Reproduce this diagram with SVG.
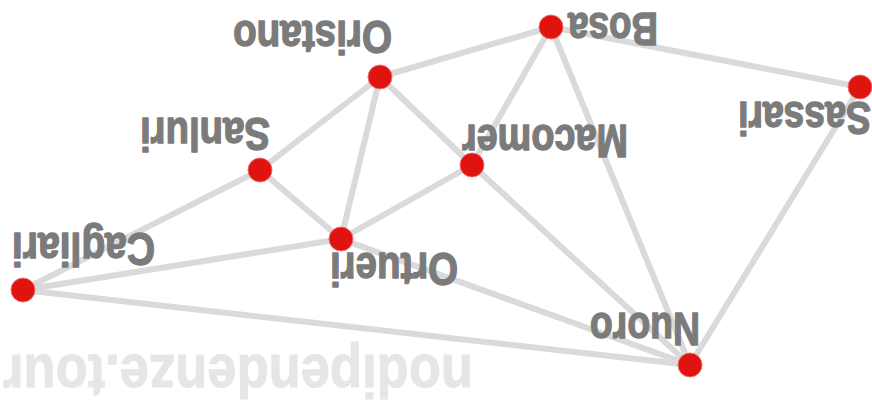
<svg xmlns="http://www.w3.org/2000/svg" width="872" height="404" viewBox="0 0 872 404">
<style>
.bg{fill:#ffffff}
.wm{font-family:"Liberation Sans",Arial,sans-serif;font-weight:700;font-size:62px;fill:#e6e6e6;stroke:#e6e6e6;stroke-width:1}
.edge{stroke:#dadada;stroke-width:6;stroke-linecap:round;fill:none}
.dot{fill:#e0140f;stroke:#f07070;stroke-width:1}
.lbl{font-family:"Liberation Sans",Arial,sans-serif;font-weight:700;font-size:46px;fill:#7b7b7b;stroke:#7b7b7b;stroke-width:1.4;stroke-linejoin:round}
</style>
<rect class="bg" x="0" y="0" width="872" height="404"/>
<text class="wm" x="473" y="355" transform="rotate(180 473 355)" textLength="470" lengthAdjust="spacingAndGlyphs">nodipendenze.tour</text>
<g id="connectors">
<line class="edge" x1="380" y1="77" x2="551" y2="27"/>
<line class="edge" x1="551" y1="27" x2="860" y2="87"/>
<line class="edge" x1="551" y1="27" x2="472" y2="165"/>
<line class="edge" x1="551" y1="27" x2="690" y2="365"/>
<line class="edge" x1="860" y1="87" x2="690" y2="365"/>
<line class="edge" x1="380" y1="77" x2="260" y2="170"/>
<line class="edge" x1="380" y1="77" x2="341" y2="239"/>
<line class="edge" x1="380" y1="77" x2="472" y2="165"/>
<line class="edge" x1="260" y1="170" x2="23" y2="290"/>
<line class="edge" x1="260" y1="170" x2="341" y2="239"/>
<line class="edge" x1="472" y1="165" x2="341" y2="239"/>
<line class="edge" x1="472" y1="165" x2="690" y2="365"/>
<line class="edge" x1="341" y1="239" x2="23" y2="290"/>
<line class="edge" x1="341" y1="239" x2="690" y2="365"/>
<line class="edge" x1="23" y1="290" x2="690" y2="365"/>
</g>
<g id="node-oristano"><circle class="dot" cx="380" cy="77" r="12"/><text class="lbl" x="392" y="21" transform="rotate(180 392 21)" textLength="159" lengthAdjust="spacingAndGlyphs">Oristano</text></g>
<g id="node-bosa"><circle class="dot" cx="551" cy="27" r="12"/><text class="lbl" x="658" y="13" transform="rotate(180 658 13)" textLength="90" lengthAdjust="spacingAndGlyphs">Bosa</text></g>
<g id="node-sassari"><circle class="dot" cx="860" cy="87" r="12"/><text class="lbl" x="871" y="102" transform="rotate(180 871 102)" textLength="133" lengthAdjust="spacingAndGlyphs">Sassari</text></g>
<g id="node-sanluri"><circle class="dot" cx="260" cy="170" r="12"/><text class="lbl" x="270" y="118" transform="rotate(180 270 118)" textLength="130" lengthAdjust="spacingAndGlyphs">Sanluri</text></g>
<g id="node-macomer"><circle class="dot" cx="472" cy="165" r="12"/><text class="lbl" x="628" y="125" transform="rotate(180 628 125)" textLength="166" lengthAdjust="spacingAndGlyphs">Macomer</text></g>
<g id="node-ortueri"><circle class="dot" cx="341" cy="239" r="12"/><text class="lbl" x="458" y="253" transform="rotate(180 458 253)" textLength="128" lengthAdjust="spacingAndGlyphs">Ortueri</text></g>
<g id="node-cagliari"><circle class="dot" cx="23" cy="290" r="12"/><text class="lbl" x="155" y="233" transform="rotate(180 155 233)" textLength="143" lengthAdjust="spacingAndGlyphs">Cagliari</text></g>
<g id="node-nuoro"><circle class="dot" cx="690" cy="365" r="12"/><text class="lbl" x="700" y="313" transform="rotate(180 700 313)" textLength="110" lengthAdjust="spacingAndGlyphs">Nuoro</text></g>
</svg>
